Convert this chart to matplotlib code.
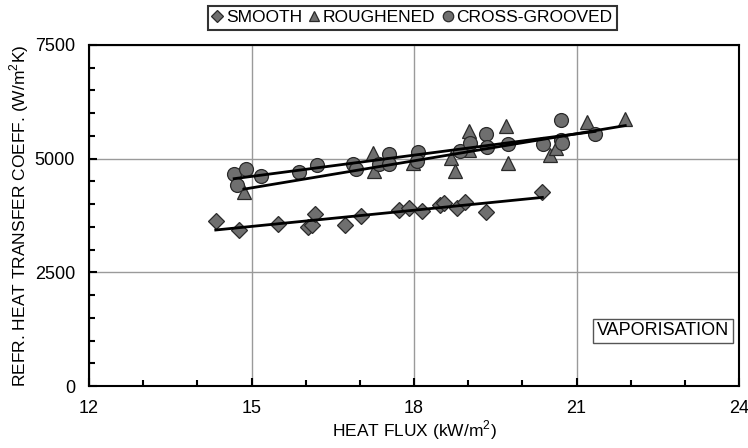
import numpy as np
import matplotlib
matplotlib.use('Agg')
import matplotlib.pyplot as plt
from matplotlib.ticker import MultipleLocator

plt.rcParams['font.family'] = ['Liberation Sans', 'DejaVu Sans']
plt.rcParams['mathtext.fontset'] = 'custom'
plt.rcParams['mathtext.rm'] = 'Liberation Sans'

# data (heat flux kW/m2, coefficient W/m2K)
smooth_x = [14.34, 14.77, 15.48, 16.05, 16.11, 16.18, 16.72, 17.03, 17.73,
            17.91, 18.15, 18.48, 18.56, 18.80, 18.95, 19.32, 20.37]
smooth_y = [3629, 3438, 3556, 3490, 3541, 3783, 3548, 3728, 3871,
            3922, 3849, 3981, 4032, 3922, 4040, 3820, 4260]

rough_x = [14.86, 17.25, 17.26, 17.98, 18.68, 18.76, 19.02, 19.02, 19.70,
           19.73, 20.51, 20.63, 21.19, 21.90]
rough_y = [4267, 5118, 4735, 4898, 5021, 4729, 5608, 5191, 5718,
           4911, 5074, 5241, 5813, 5872]

cross_x = [14.68, 14.89, 14.73, 15.17, 15.88, 16.20, 16.88, 16.92, 17.35,
           17.53, 17.53, 18.07, 18.06, 18.85, 19.03, 19.33, 19.35, 19.74,
           20.39, 20.71, 20.71, 20.74, 21.34]
cross_y = [4663, 4762, 4421, 4625, 4707, 4854, 4889, 4766, 4876,
           5096, 4876, 5153, 4949, 5175, 5351, 5542, 5263, 5322,
           5322, 5850, 5410, 5351, 5536]

labels = ['SMOOTH', 'ROUGHENED', 'CROSS-GROOVED']

fig = plt.figure(figsize=(7.48, 4.48), dpi=100)
ax = fig.add_axes([0.119, 0.138, 0.869, 0.762])

face = '#6f6f6f'
edge = '#2a2a2a'
series = [(smooth_x, smooth_y, 'D', 8.5),
          (rough_x, rough_y, '^', 10),
          (cross_x, cross_y, 'o', 10)]

handles = []
for (xs, ys, m, ms), lab in zip(series, labels):
    h, = ax.plot(xs, ys, linestyle='none', marker=m, markersize=ms,
                 markerfacecolor=face, markeredgecolor=edge,
                 markeredgewidth=0.9, label=lab, zorder=3)
    handles.append(h)
    # linear trend line over the range of the series
    k, b = np.polyfit(xs, ys, 1)
    xx = np.array([min(xs), max(xs)])
    ax.plot(xx, k * xx + b, color='black', lw=2, zorder=4)

ax.set_xlim(12, 24)
ax.set_ylim(0, 7500)
ax.xaxis.set_major_locator(MultipleLocator(3))
ax.xaxis.set_minor_locator(MultipleLocator(1))
ax.yaxis.set_major_locator(MultipleLocator(2500))
ax.yaxis.set_minor_locator(MultipleLocator(500))
ax.grid(True, which='major', color='#9a9a9a', lw=1)
ax.set_axisbelow(True)
ax.tick_params(which='both', direction='in', labelsize=13, width=1.5)
ax.tick_params(which='major', length=6)
ax.tick_params(axis='x', which='major', pad=10)
ax.tick_params(axis='y', which='major', pad=10)
ax.tick_params(which='minor', length=4)
for s in ax.spines.values():
    s.set_linewidth(1.5)

ax.set_xlabel('HEAT FLUX (kW/m$^{2}$)', fontsize=12.5, labelpad=1)
ax.set_ylabel('REFR. HEAT TRANSFER COEFF. (W/m$^{2}$K)', fontsize=12.5, labelpad=3)

ax.text(0.883, 0.162, 'VAPORISATION', transform=ax.transAxes, fontsize=13,
        ha='center', va='center',
        bbox=dict(boxstyle='square,pad=0.2', facecolor='white',
                  edgecolor='#555555', lw=1))

leg = fig.legend(handles=handles, loc='center', bbox_to_anchor=(0.551, 0.960),
                 ncol=3, fontsize=12.5, frameon=True, fancybox=False,
                 handlelength=0.6, handletextpad=0.2, columnspacing=0.4,
                 borderpad=0.25, markerscale=0.75)
leg.get_frame().set_edgecolor('black')
leg.get_frame().set_linewidth(1.5)

fig.savefig('out.png', dpi=100)
